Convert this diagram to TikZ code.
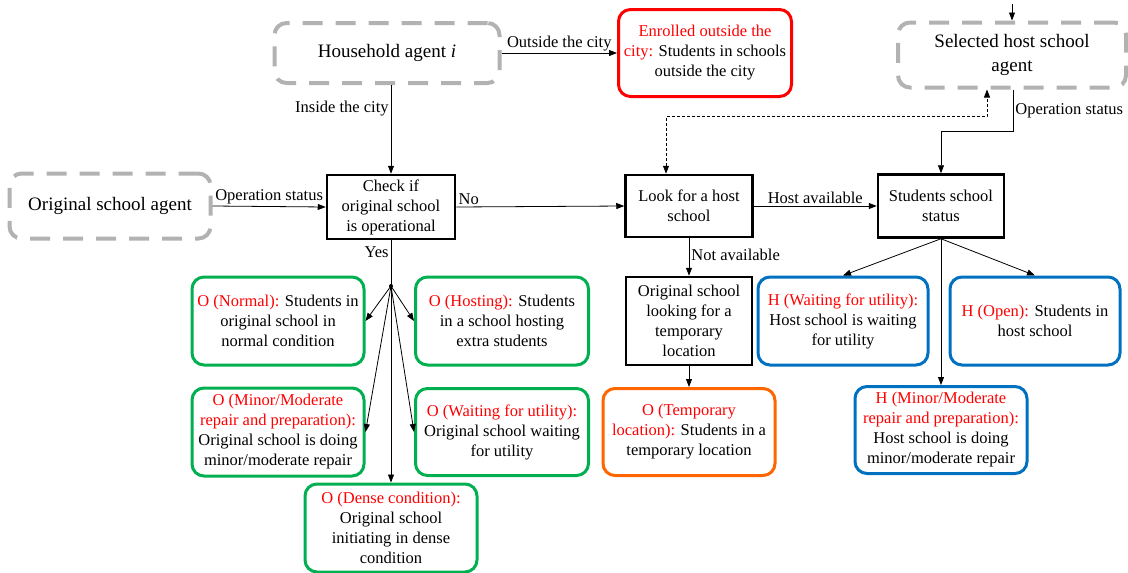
\documentclass[tikz,border=0pt]{standalone}
\usepackage{fontspec}
\setmainfont{Liberation Serif}
\usetikzlibrary{arrows.meta}
\definecolor{agentgray}{RGB}{178,178,178}
\definecolor{okgreen}{RGB}{0,176,80}
\definecolor{hostblue}{RGB}{0,112,192}
\definecolor{temporange}{RGB}{255,102,0}
\definecolor{tagred}{RGB}{255,0,0}
\newcommand{\tag}[1]{\textcolor{tagred}{#1}}

\begin{document}
\begin{tikzpicture}[x=1pt,y=-1pt,
  font=\fontsize{16.5}{20}\selectfont,
  agent/.style={draw=agentgray, line width=4pt, dash pattern=on 20pt off 13pt,
    rounded corners=12pt, align=center, inner sep=0pt,
    font=\fontsize{19}{24}\selectfont},
  stepbox/.style={draw, line width=2.5pt, align=center, inner sep=0pt},
  state/.style={draw=#1, line width=3pt, rounded corners=12pt, align=center, inner sep=0pt},
  link/.style={line width=0.8pt, -{Triangle[length=8pt,width=6pt]}},
  hint/.style={line width=0.8pt, dash pattern=on 3pt off 2pt,
    {Triangle[length=8pt,width=6pt]}-{Triangle[length=8pt,width=6pt]}},
  lbl/.style={inner sep=2pt},
]
\useasboundingbox (0,0) rectangle (1128,573);

% agents
\node[agent, minimum width=225, minimum height=60] (house) at (387,53) {Household agent \textit{i}};
\node[agent, minimum width=228, minimum height=65] (selected) at (1012,55) {Selected host school\\agent};
\node[agent, minimum width=201, minimum height=65] (orig) at (110,206) {Original school agent};

% decision / process steps
\node[stepbox, minimum width=128, minimum height=64] (check) at (391,207) {Check if\\original school\\is operational};
\node[stepbox, minimum width=127, minimum height=62] (look) at (689,206) {Look for a host\\school};
\node[stepbox, minimum width=126, minimum height=63] (status) at (941,206) {Students school\\status};
\node[stepbox, minimum width=126, minimum height=88] (temp) at (689,321) {Original school\\looking for a\\temporary\\location};

% outcome states
\node[state=tagred, minimum width=173, minimum height=87] (enrolled) at (705,53)
  {\tag{Enrolled outside the}\\\tag{city:} Students in schools\\outside the city};
\node[state=temporange, minimum width=172, minimum height=87] (otemp) at (689,432)
  {\tag{O (Temporary}\\\tag{location):} Students in a\\temporary location};
\node[state=hostblue, minimum width=170, minimum height=88] (hwait) at (843,321)
  {\tag{H (Waiting for utility):}\\Host school is waiting\\for utility};
\node[state=hostblue, minimum width=170, minimum height=88] (hopen) at (1035,321)
  {\tag{H (Open):} Students in\\host school};
\node[state=hostblue, minimum width=172, minimum height=87] (hminor) at (941,430)
  {\tag{H (Minor/Moderate}\\\tag{repair and preparation):}\\Host school is doing\\minor/moderate repair};
\node[state=okgreen, minimum width=172, minimum height=88] (onormal) at (278,321)
  {\tag{O (Normal):} Students in\\original school in\\normal condition};
\node[state=okgreen, minimum width=173, minimum height=88] (ohost) at (502,321)
  {\tag{O (Hosting):} Students\\in a school hosting\\extra students};
\node[state=okgreen, minimum width=172, minimum height=88] (ominor) at (278,432)
  {\tag{O (Minor/Moderate}\\\tag{repair and preparation):}\\Original school is doing\\minor/moderate repair};
\node[state=okgreen, minimum width=173, minimum height=87] (owait) at (502,432)
  {\tag{O (Waiting for utility):}\\Original school waiting\\for utility};
\node[state=okgreen, minimum width=172, minimum height=88] (odense) at (391,528)
  {\tag{O (Dense condition):}\\Original school\\initiating in dense\\condition};

% connectors
\coordinate (feed) at (1012,4);
\draw[link] (feed) -- (selected.north);
\draw[link] (house.east) -- node[lbl, above] {Outside the city} (enrolled.west);
\draw[link] (check.north |- house.south) -- node[lbl, left, pos=0.27] {Inside the city} (check.north);
\draw[link] (orig.east) -- node[lbl, above] {Operation status} (check.west);
\draw[link] (check.east) -- node[lbl, above right, pos=0] {No} (look.west);
\draw[link] (look.east) -- node[lbl, above] {Host available} (status.west);
\draw[link] (look.south) -- node[lbl, right, pos=0.45] {Not available} (temp.north);
\draw[link] (temp.south) -- (otemp.north);
\draw[hint] ([xshift=-23pt]look.north) -- ++(0,-57) -| ([xshift=-25pt]selected.south);
\draw[link] ([xshift=1pt]selected.south) -- node[lbl, right, pos=0.5] {Operation status} ++(0,42) -| (status.north);
\draw[link] (status.south) -- (hwait.north);
\draw[link] (status.south) -- (hopen.north);
\draw[link] (status.south) -- (hminor.north);

% branching of the "Yes" outcome
\coordinate (branch) at (391,286);
\draw[line width=0.8pt] (check.south) -- node[lbl, left, pos=0.25] {Yes} (branch);
\fill (branch) circle (2pt);
\draw[link] (branch) -- (onormal.east);
\draw[link] (branch) -- (ohost.west);
\draw[link] (branch) -- (ominor.east);
\draw[link] (branch) -- (owait.west);
\draw[link] (branch) -- (odense.north);
\end{tikzpicture}
\end{document}
